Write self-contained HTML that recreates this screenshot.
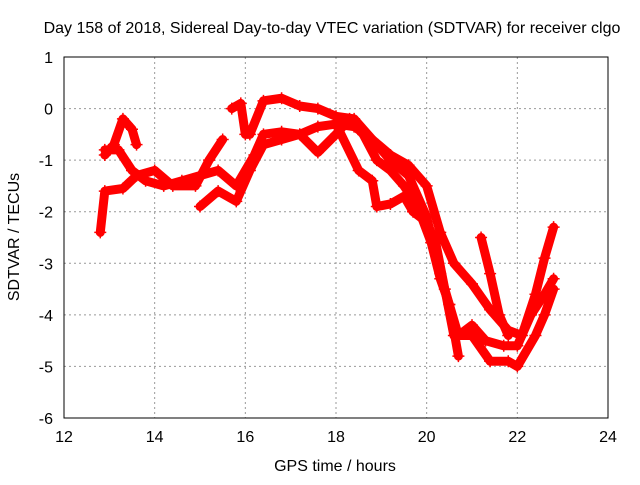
<!DOCTYPE html>
<html><head><meta charset="utf-8"><style>
body{margin:0;background:#fff;}
svg text{font-family:"Liberation Sans",sans-serif;fill:#000;}
</style></head><body>
<svg id="chart" width="640" height="480" xmlns="http://www.w3.org/2000/svg">
<rect width="640" height="480" fill="#fff"/>
<text x="332" y="33" font-size="16" text-anchor="middle">Day 158 of 2018, Sidereal Day-to-day VTEC variation (SDTVAR) for receiver clgo</text>
<text x="335" y="471" font-size="16" text-anchor="middle">GPS time / hours</text>
<text transform="translate(19,237) rotate(-90)" font-size="16" text-anchor="middle">SDTVAR / TECUs</text>
<g id="grid"></g>
<g id="ticks"></g>
<g id="series"></g>
<rect x="64" y="57" width="544" height="361" fill="none" stroke="#000" stroke-width="1"/>
</svg>
<script>
const xTicks=[12,14,16,18,20,22,24];
const yTicks=[1,0,-1,-2,-3,-4,-5,-6];
const trackA_t=[12.9,13.2,13.5,13.8,14.2,14.6,15.0,15.4,15.8,16.2,16.4,16.8,17.2,17.6,18.0,18.4,18.8,19.2,19.6,20.0,20.3,20.6,21.0,21.4,21.8,22.1,22.4,22.6,22.8];
const trackA_v=[-0.8,-0.8,-1.2,-1.4,-1.5,-1.4,-1.3,-1.2,-1.5,-0.9,-0.5,-0.45,-0.5,-0.35,-0.3,-0.35,-0.6,-0.9,-1.1,-1.5,-2.4,-3.0,-3.4,-3.9,-4.3,-4.4,-3.6,-2.9,-2.3];
const trackB_t=[15.7,15.9,16.0,16.1,16.4,16.8,17.2,17.6,18.0,18.4,18.8,19.2,19.6,20.0,20.3,20.5,20.7,21.0,21.3,21.7,22.0,22.3,22.6,22.8];
const trackB_v=[0.0,0.1,-0.5,-0.5,0.15,0.2,0.05,0.0,-0.15,-0.2,-0.6,-1.0,-1.3,-2.1,-3.2,-3.8,-4.4,-4.2,-4.5,-4.6,-4.6,-4.0,-3.6,-3.3];
const trackC_t=[12.8,12.9,13.3,13.6,14.0,14.4,14.9,15.2,15.5];
const trackC_v=[-2.4,-1.6,-1.55,-1.3,-1.2,-1.5,-1.5,-1.0,-0.6];
const trackD_t=[15.0,15.4,15.8,16.1,16.4,16.8,17.2,17.6,18.0,18.3,18.6,18.9,19.2,19.5,19.8,20.1,20.3,20.5,20.7];
const trackD_v=[-1.9,-1.6,-1.8,-1.2,-0.7,-0.6,-0.5,-0.85,-0.5,-0.2,-0.5,-1.0,-1.2,-1.5,-1.9,-2.6,-3.3,-3.8,-4.8];
const trackE_t=[18.0,18.5,18.8,18.9,19.2,19.5,19.7,20.0,20.2,20.4,20.6,21.0,21.4,21.8,22.0,22.4,22.6,22.8];
const trackE_v=[-0.3,-1.2,-1.4,-1.9,-1.85,-1.7,-2.0,-2.2,-2.6,-3.5,-4.4,-4.4,-4.9,-4.9,-5.0,-4.4,-4.0,-3.5];
const trackF_t=[21.2,21.4,21.6,21.8];
const trackF_v=[-2.5,-3.2,-4.0,-4.4];
const trackG_t=[12.9,13.1,13.3,13.5,13.6];
const trackG_v=[-0.9,-0.7,-0.2,-0.4,-0.7];

const X0=64,X1=608,Y0=418,Y1=57;
function xs(t){return X0+(t-12)/(24-12)*(X1-X0);}
function ys(v){return Y0-(v+6)/(1+6)*(Y0-Y1);}
const NS="http://www.w3.org/2000/svg";
function mk(tag,attrs,parent){const e=document.createElementNS(NS,tag);for(const k in attrs)e.setAttribute(k,attrs[k]);parent.appendChild(e);return e;}
const grid=document.getElementById('grid'),ticks=document.getElementById('ticks'),series=document.getElementById('series');
xTicks.forEach(t=>{const x=xs(t);
 if(t>12&&t<24){const g=mk('line',{x1:x,x2:x,y1:Y1,y2:Y0,stroke:'#999','stroke-dasharray':'2,3'},grid);
 
 }
 const l=mk('text',{x:x,y:Y0+24,'font-size':'16','text-anchor':'middle'},ticks);l.textContent=t;
 
 
});
yTicks.forEach(v=>{const y=ys(v);
 if(v<1&&v>-6){const g=mk('line',{x1:X0,x2:X1,y1:y,y2:y,stroke:'#999','stroke-dasharray':'2,3'},grid);
 
 }
 const l=mk('text',{x:X0-11,y:y+6,'font-size':'16','text-anchor':'end'},ticks);l.textContent=v;
 
 
});
const tracks=[[trackA_t,trackA_v],[trackB_t,trackB_v],[trackC_t,trackC_v],[trackD_t,trackD_v],[trackE_t,trackE_v],[trackF_t,trackF_v],[trackG_t,trackG_v]];
tracks.forEach((tr,i)=>{
 const pts=tr[0].map((t,j)=>xs(t)+','+ys(tr[1][j])).join(' ');
 const pl=mk('polyline',{points:pts,fill:'none',stroke:'#f00','stroke-width':'9','stroke-linejoin':'round','stroke-linecap':'round'},series);
 
 
 tr[0].forEach((t,j)=>{const x=xs(t),y=ys(tr[1][j]);
  const p=mk('path',{d:`M${x-6},${y}H${x+6}M${x},${y-6}V${y+6}`,stroke:'#f00','stroke-width':'1.5'},series);
  
  
 });
});
</script>
</body></html>
